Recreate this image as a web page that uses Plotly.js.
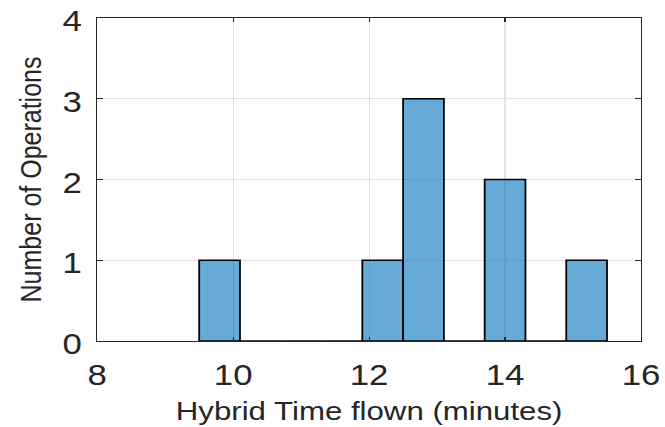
<!DOCTYPE html>
<html>
<head>
<meta charset="utf-8">
<script src="https://cdn.plot.ly/plotly-3.0.1.min.js"></script>
<style>
  html, body { margin: 0; padding: 0; background: #ffffff; overflow: hidden; }
  #plot { width: 554px; height: 427px; transform: scaleX(1.2004); transform-origin: 0 0; }
</style>
</head>
<body>
<div id="plot"></div>
<script>
// Histogram of hybrid flight time (bin edges in minutes, counts per bin)
const binEdges = [9.5, 10.1, 10.7, 11.3, 11.9, 12.5, 13.1, 13.7, 14.3, 14.9, 15.5];
const binCounts = [1, 0, 0, 0, 1, 3, 0, 2, 0, 1];
const xTickVals = [8, 10, 12, 14, 16];
const yTickVals = [0, 1, 2, 3, 4];
const xLabel = 'Hybrid Time flown (minutes)';
const yLabel = 'Number of Operations';

const centers = binCounts.map((c, i) => (binEdges[i] + binEdges[i + 1]) / 2);
const widths = binCounts.map((c, i) => binEdges[i + 1] - binEdges[i]);

const axisColor = '#262626';
const font = { family: '"Liberation Sans", Arial, Helvetica, sans-serif', color: axisColor };

const trace = {
  type: 'bar',
  x: centers,
  y: binCounts,
  width: widths,
  marker: { color: 'rgba(0,114,189,0.6)', line: { color: '#000000', width: 1.5 } },
  hoverinfo: 'x+y'
};

const commonAxis = {
  showline: true, linecolor: axisColor, linewidth: 1,
  mirror: 'ticks', ticks: 'inside', tickcolor: axisColor, tickwidth: 1,
  showgrid: true, gridcolor: '#e3e3e3', gridwidth: 1,
  zeroline: false, automargin: false,
  tickfont: Object.assign({}, font, { size: 29 })
};

const layout = {
  width: 554, height: 427,
  margin: { l: 81, r: 20, t: 18, b: 86 },
  paper_bgcolor: '#ffffff', plot_bgcolor: '#ffffff',
  showlegend: false,
  bargap: 0,
  xaxis: Object.assign({}, commonAxis, {
    range: [8, 16], tickmode: 'array', tickvals: xTickVals, ticktext: xTickVals.map(String),
    ticklen: 4, ticklabelstandoff: 8,
    title: { text: xLabel, font: Object.assign({}, font, { size: 26 }), standoff: 12 }
  }),
  yaxis: Object.assign({}, commonAxis, {
    range: [0, 4], tickmode: 'array', tickvals: yTickVals, ticktext: yTickVals.map(String),
    ticklen: 5, ticklabelstandoff: 6, ticklabelshift: 3,
    title: { text: yLabel, font: Object.assign({}, font, { size: 25 }), standoff: 10 }
  })
};

Plotly.newPlot('plot', [trace], layout, { displayModeBar: false, staticPlot: true });
</script>
</body>
</html>
